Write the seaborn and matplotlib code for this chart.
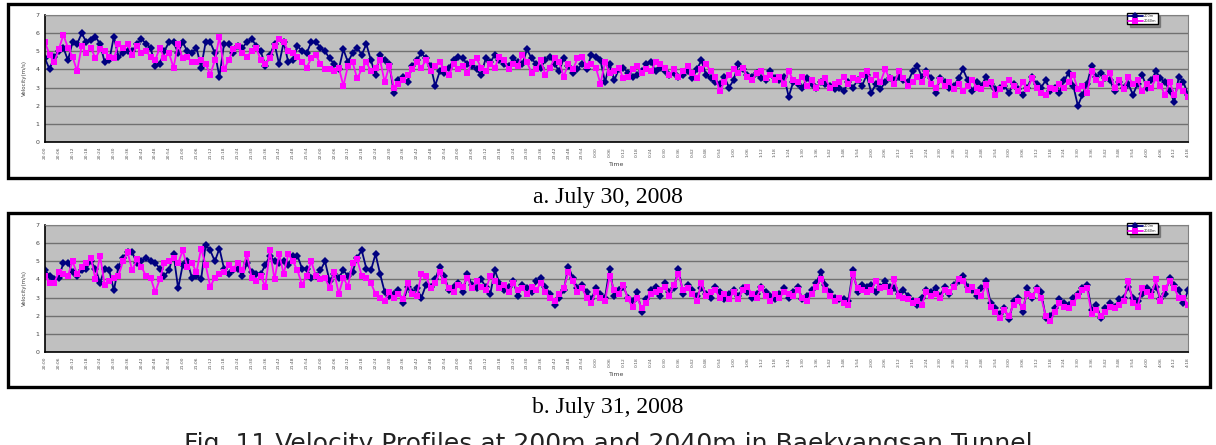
#!/usr/bin/env python3
#===============================================================================
# plot velocity profiles
#===============================================================================

# Imports ======================================================================

import pandas as pd
import seaborn as sns
import matplotlib
matplotlib.use('Agg')
import matplotlib.pyplot as plt
from matplotlib.patches import Rectangle


# Data =========================================================================

series_names = ('200m', '2040m')

# July 30, 2008 (one reading every 2 minutes from 20:00)
a_200 = [
    4.6, 4.0, 4.7, 5.0, 5.2, 4.5, 5.5, 5.4, 6.0, 5.5,
    5.6, 5.8, 5.4, 4.4, 4.5, 5.8, 4.7, 4.9, 5.0, 5.0,
    5.4, 5.7, 5.4, 5.2, 4.2, 4.3, 5.0, 5.5, 5.5, 4.9,
    5.5, 5.0, 4.9, 5.2, 4.1, 5.5, 5.5, 4.9, 3.6, 5.4,
    5.4, 4.9, 5.3, 5.2, 5.5, 5.7, 5.3, 5.0, 4.2, 4.8,
    5.4, 4.3, 5.5, 4.4, 4.5, 5.3, 5.0, 4.9, 5.5, 5.5,
    5.2, 5.0, 4.6, 4.3, 4.0, 5.1, 4.4, 4.9, 5.2, 4.8,
    5.4, 4.5, 3.7, 4.8, 4.5, 4.3, 2.7, 3.4, 3.6, 3.3,
    4.2, 4.5, 4.9, 4.6, 4.2, 3.1, 3.9, 3.8, 4.1, 4.5,
    4.7, 4.6, 4.3, 4.2, 4.0, 3.7, 4.6, 4.4, 4.8, 4.5,
    4.3, 4.2, 4.6, 4.4, 4.3, 5.1, 4.6, 4.3, 4.1, 4.5,
    4.7, 4.3, 3.9, 4.6, 4.2, 3.8, 4.0, 4.3, 4.0, 4.8,
    4.7, 4.5, 3.3, 4.3, 3.4, 4.0, 4.1, 3.8, 3.6, 3.7,
    3.9, 4.3, 4.4, 3.9, 4.1, 3.9, 3.7, 3.8, 3.6, 3.7,
    3.9, 3.5, 4.0, 4.5, 3.7, 3.5, 3.3, 3.2, 3.6, 3.0,
    3.4, 4.3, 4.0, 3.7, 3.6, 3.8, 3.5, 3.4, 3.9, 3.5,
    3.4, 3.6, 2.5, 3.3, 3.2, 3.0, 3.5, 3.2, 3.0, 3.3,
    3.2, 3.1, 2.9, 3.0, 2.8, 3.3, 3.0, 3.4, 3.1, 3.7,
    2.7, 3.2, 2.9, 3.3, 3.5, 3.4, 3.6, 3.4, 3.3, 3.9,
    4.2, 3.6, 3.9, 3.5, 2.7, 3.5, 3.3, 3.0, 3.1, 3.5,
    4.0, 3.4, 2.8, 3.3, 3.1, 3.6, 3.2, 2.9, 3.0, 3.1,
    2.7, 3.2, 2.9, 2.6, 3.0, 3.6, 3.2, 3.0, 3.4, 2.8,
    3.0, 2.7, 3.4, 3.8, 3.1, 2.0, 2.6, 3.2, 4.2, 3.6,
    3.8, 3.5, 3.4, 2.8, 3.3, 3.0, 3.2, 2.6, 3.2, 3.7,
    3.0, 3.4, 3.9, 3.5, 3.3, 2.8, 2.2, 3.6, 3.3, 2.6,
]
a_2040 = [
    5.5, 4.8, 4.4, 5.1, 5.9, 5.2, 4.7, 3.9, 5.3, 4.9,
    5.2, 4.6, 5.1, 5.0, 4.7, 4.6, 5.4, 5.2, 5.4, 4.8,
    5.3, 4.9, 5.0, 4.7, 4.5, 5.2, 4.6, 4.9, 4.1, 5.4,
    4.6, 4.7, 4.4, 4.4, 4.5, 4.3, 3.7, 4.5, 5.8, 4.0,
    4.5, 5.1, 5.3, 4.9, 4.7, 5.0, 5.2, 4.5, 4.3, 4.6,
    5.3, 5.7, 5.5, 5.0, 4.9, 4.7, 4.4, 4.1, 4.6, 4.8,
    4.3, 4.0, 4.0, 3.9, 4.1, 3.1, 4.2, 4.4, 3.5, 4.0,
    4.4, 3.9, 4.1, 4.5, 3.3, 4.2, 3.0, 3.2, 3.4, 3.7,
    4.0, 4.4, 4.1, 4.5, 3.9, 4.2, 4.4, 4.0, 3.7, 4.3,
    4.0, 4.2, 3.8, 4.4, 4.6, 4.1, 3.9, 4.3, 4.1, 4.7,
    4.5, 4.0, 4.3, 4.2, 4.8, 4.4, 3.8, 4.0, 4.5, 3.7,
    4.1, 4.6, 4.4, 3.6, 4.3, 4.0, 4.6, 4.7, 4.2, 4.3,
    4.1, 3.2, 4.4, 3.8, 3.9, 4.1, 3.5, 3.6, 4.0, 4.2,
    3.8, 4.0, 3.9, 4.4, 4.3, 4.1, 3.7, 4.0, 3.6, 3.9,
    4.2, 3.8, 3.5, 4.0, 4.3, 3.9, 3.6, 2.8, 3.3, 3.7,
    4.0, 3.8, 4.1, 3.6, 3.4, 3.8, 3.9, 3.5, 3.7, 3.4,
    3.6, 3.2, 3.9, 3.4, 3.3, 3.6, 3.1, 3.4, 3.0, 3.3,
    3.5, 3.0, 3.2, 3.3, 3.6, 3.2, 3.5, 3.4, 3.7, 3.9,
    3.4, 3.7, 3.3, 4.0, 3.5, 3.2, 3.9, 3.5, 3.1, 3.3,
    3.6, 3.3, 3.8, 3.2, 3.0, 3.4, 3.1, 3.3, 2.9, 3.2,
    2.8, 3.1, 3.4, 3.0, 2.9, 3.2, 3.3, 2.6, 2.9, 3.2,
    3.4, 3.1, 2.8, 3.3, 2.9, 3.5, 3.0, 2.7, 2.6, 3.0,
    2.9, 3.2, 3.0, 3.3, 3.7, 2.9, 3.1, 2.7, 3.9, 3.4,
    3.2, 3.5, 3.8, 3.0, 3.4, 2.9, 3.6, 3.2, 3.4, 2.8,
    3.2, 3.0, 3.5, 3.1, 2.6, 3.3, 2.6, 3.1, 2.8, 2.5,
]

# July 31, 2008
b_200 = [
    4.5, 4.2, 4.0, 4.1, 4.9, 4.9, 4.4, 4.2, 4.5, 4.6,
    5.0, 4.6, 3.8, 4.6, 4.5, 3.4, 4.7, 5.2, 5.5, 5.5,
    4.9, 5.0, 5.2, 5.0, 4.9, 4.6, 4.2, 4.5, 5.4, 3.5,
    4.8, 5.0, 4.1, 4.2, 4.0, 5.9, 5.6, 5.0, 5.7, 4.6,
    4.3, 4.5, 4.6, 4.2, 4.9, 4.4, 4.3, 4.3, 4.8, 5.3,
    5.0, 4.9, 5.0, 4.8, 5.3, 5.3, 4.6, 4.6, 4.1, 4.2,
    4.5, 5.0, 3.9, 4.3, 4.1, 4.5, 4.2, 4.4, 5.2, 5.6,
    4.6, 4.5, 5.4, 4.3, 3.3, 3.1, 3.2, 3.4, 2.7, 3.6,
    3.3, 3.5, 3.0, 3.7, 3.6, 4.0, 4.7, 4.2, 3.4, 3.6,
    3.8, 3.3, 4.3, 3.7, 3.5, 4.0, 3.6, 3.2, 4.5, 3.8,
    3.4, 3.6, 3.9, 3.1, 3.7, 3.5, 3.3, 3.9, 4.1, 3.6,
    3.2, 2.6, 3.0, 3.4, 4.7, 4.1, 3.5, 3.7, 3.3, 2.9,
    3.5, 3.2, 3.0, 4.6, 3.1, 3.4, 3.6, 3.0, 2.8, 3.3,
    2.2, 2.9, 3.4, 3.6, 3.1, 3.8, 3.3, 3.5, 4.6, 3.2,
    3.7, 3.4, 3.1, 3.5, 3.2, 3.0, 3.6, 3.3, 2.9, 3.2,
    3.4, 3.1, 3.5, 3.3, 3.0, 3.2, 3.6, 3.3, 3.1, 2.9,
    3.2, 3.5, 3.0, 3.3, 3.6, 2.9, 3.1, 3.4, 3.8, 4.4,
    3.7, 3.3, 3.0, 2.9, 2.9, 2.8, 4.5, 3.3, 3.7, 3.6,
    3.7, 3.3, 3.6, 3.9, 3.6, 3.5, 3.2, 3.4, 3.1, 2.8,
    2.6, 3.0, 3.4, 3.3, 3.5, 3.1, 3.6, 3.2, 3.7, 3.9,
    4.2, 3.6, 3.4, 3.1, 3.5, 3.9, 2.7, 2.4, 2.1, 2.4,
    1.8, 2.8, 3.0, 2.2, 3.5, 3.0, 3.5, 3.3, 1.9, 2.0,
    2.4, 2.9, 2.7, 2.6, 3.0, 3.2, 3.5, 3.7, 2.3, 2.6,
    1.9, 2.4, 2.7, 2.5, 2.9, 3.0, 3.6, 3.0, 2.8, 3.2,
    3.5, 3.3, 3.6, 2.9, 3.2, 4.1, 3.7, 3.4, 2.7, 3.4,
]
b_2040 = [
    4.2, 3.8, 3.8, 4.4, 4.3, 4.2, 5.0, 4.3, 4.7, 4.9,
    5.2, 4.0, 5.3, 3.7, 3.9, 4.1, 4.2, 5.0, 5.5, 4.5,
    5.1, 4.7, 4.2, 4.1, 3.3, 4.0, 4.9, 5.0, 5.2, 4.9,
    5.6, 4.7, 4.9, 4.4, 5.7, 4.8, 3.6, 4.1, 4.3, 4.4,
    4.8, 4.6, 4.9, 4.5, 5.4, 4.1, 3.9, 4.2, 3.6, 5.6,
    4.0, 5.4, 4.3, 5.4, 5.0, 4.5, 3.7, 4.2, 5.0, 4.2,
    4.0, 4.1, 3.5, 4.4, 3.2, 4.1, 3.6, 4.9, 5.1, 4.2,
    4.1, 3.8, 3.2, 3.0, 2.8, 3.3, 3.0, 3.2, 2.9, 3.8,
    3.2, 3.1, 4.3, 4.2, 3.5, 3.8, 4.4, 3.9, 3.5, 3.3,
    3.7, 3.6, 4.1, 3.5, 3.9, 3.6, 3.4, 4.2, 3.9, 3.5,
    3.7, 3.3, 3.8, 3.4, 3.5, 3.2, 3.6, 3.4, 3.8, 3.3,
    3.0, 2.8, 3.2, 3.5, 4.4, 3.9, 3.3, 3.5, 3.0, 2.7,
    3.3, 3.0, 2.8, 4.2, 3.4, 3.2, 3.7, 2.9, 2.5, 3.0,
    2.4, 2.7, 3.2, 3.3, 3.4, 3.6, 3.1, 3.7, 4.3, 3.4,
    3.5, 3.2, 2.8, 3.8, 3.1, 3.3, 3.4, 3.0, 3.2, 2.9,
    3.3, 2.9, 3.4, 3.6, 3.2, 3.0, 3.5, 3.1, 2.8, 3.2,
    3.0, 3.3, 3.2, 3.1, 3.4, 3.0, 2.8, 3.2, 3.6, 4.0,
    3.4, 3.1, 2.8, 3.0, 2.7, 2.6, 4.3, 3.5, 3.4, 3.3,
    3.4, 3.9, 3.5, 3.6, 3.3, 4.0, 3.1, 3.0, 2.9, 2.7,
    2.8, 2.6, 3.3, 3.1, 3.2, 3.0, 3.4, 3.3, 3.6, 4.0,
    3.9, 3.4, 3.6, 3.3, 3.1, 3.7, 2.5, 2.2, 1.9, 2.3,
    2.0, 2.6, 2.8, 2.5, 3.2, 3.1, 3.4, 3.0, 2.0, 1.7,
    2.2, 2.7, 2.5, 2.4, 2.7, 3.1, 3.4, 3.5, 2.1, 2.3,
    2.0, 2.2, 2.5, 2.4, 2.6, 2.8, 3.9, 2.7, 2.5, 3.5,
    3.3, 3.1, 4.0, 2.8, 3.5, 3.9, 3.5, 3.0, 3.0, 2.6,
]

panel_titles = ('a. July 30, 2008', 'b. July 31, 2008')
caption = 'Fig. 11 Velocity Profiles at 200m and 2040m in Baekyangsan Tunnel'


# Functions ====================================================================

def long_frame(v200, v2040):
    return pd.concat(
        [
            pd.DataFrame({'step': range(len(v200)), 'vel': v200,
                          'loc': series_names[0]}),
            pd.DataFrame({'step': range(len(v2040)), 'vel': v2040,
                          'loc': series_names[1]}),
        ],
        ignore_index=True,
    )


def draw_panel(ax, data, times):
    ax.set_facecolor('#c0c0c0')
    sns.lineplot(
        data=data, x='step', y='vel', hue='loc', style='loc',
        palette={'200m': '#000080', '2040m': '#ff00ff'},
        markers={'200m': 'D', '2040m': 's'}, dashes=False,
        markersize=3.8, markeredgewidth=0, linewidth=1.3, ax=ax,
    )
    n = len(times)
    ax.set_xlim(0, n - 1)
    ax.set_ylim(0, 7)
    ax.set_yticks(range(8))
    ax.set_xticks(range(0, n, 3))
    ax.set_xticklabels(times[::3], rotation=90, fontsize=3.2, color='#555555')
    ax.set_xticks(range(n), minor=True)
    ax.tick_params(axis='x', which='both', length=2, width=0.5, pad=1.5)
    ax.tick_params(axis='y', length=2, width=0.6, labelsize=4.5,
                   labelcolor='#444444', pad=2)
    ax.grid(axis='y', color='#707070', linewidth=1.0)
    ax.grid(axis='x', visible=False)
    for side in ('left', 'bottom'):
        ax.spines[side].set_color('black')
        ax.spines[side].set_linewidth(1.2)
    for side in ('top', 'right'):
        ax.spines[side].set_color('#808080')
        ax.spines[side].set_linewidth(0.8)
    ax.set_xlabel('Time', fontsize=4.5, color='#444444', labelpad=2)
    ax.set_ylabel('Velocity(m/s)', fontsize=4, color='#444444', labelpad=6)
    handles, labels = ax.get_legend_handles_labels()
    leg = ax.legend(
        handles, labels, loc='upper right', bbox_to_anchor=(0.975, 1.03),
        fontsize=2.5, handlelength=4.2, borderpad=0.4, labelspacing=0.2,
        handletextpad=0.3, frameon=True, fancybox=False, shadow=True,
    )
    leg.get_frame().set_edgecolor('black')
    leg.get_frame().set_linewidth(1.0)
    leg.get_frame().set_facecolor('white')


def main():
    sns.set_theme(style='white')
    plt.rcParams['font.family'] = ['DejaVu Sans']
    fig = plt.figure(figsize=(12.16, 4.45), dpi=100)

    n = len(a_200)
    times = list(pd.date_range('2008-07-30 20:00', periods=n, freq='2min')
                 .strftime('%-H:%M'))

    ax_a = fig.add_axes([0.037, 0.681, 0.940, 0.2854])
    draw_panel(ax_a, long_frame(a_200, a_2040), times)
    ax_b = fig.add_axes([0.037, 0.209, 0.940, 0.2854])
    draw_panel(ax_b, long_frame(b_200, b_2040), times)

    # chart frames
    for y0 in (1 - 178 / 445, 1 - 387 / 445):
        fig.add_artist(Rectangle(
            (8 / 1216, y0), 1202 / 1216, 174 / 445, transform=fig.transFigure,
            fill=False, edgecolor='black', linewidth=2.4,
        ))

    fig.text(0.5, 1 - 198 / 445, panel_titles[0], ha='center', va='center',
             fontsize=17, family='Liberation Serif', color='black')
    fig.text(0.5, 1 - 408 / 445, panel_titles[1], ha='center', va='center',
             fontsize=17, family='Liberation Serif', color='black')
    fig.text(0.5, 1 - 432 / 445, caption, ha='center', va='top',
             fontsize=18, family='DejaVu Sans', color='#222222')

    fig.savefig('out.png', dpi=100)


# Execute ======================================================================

if __name__ == '__main__':
    main()
